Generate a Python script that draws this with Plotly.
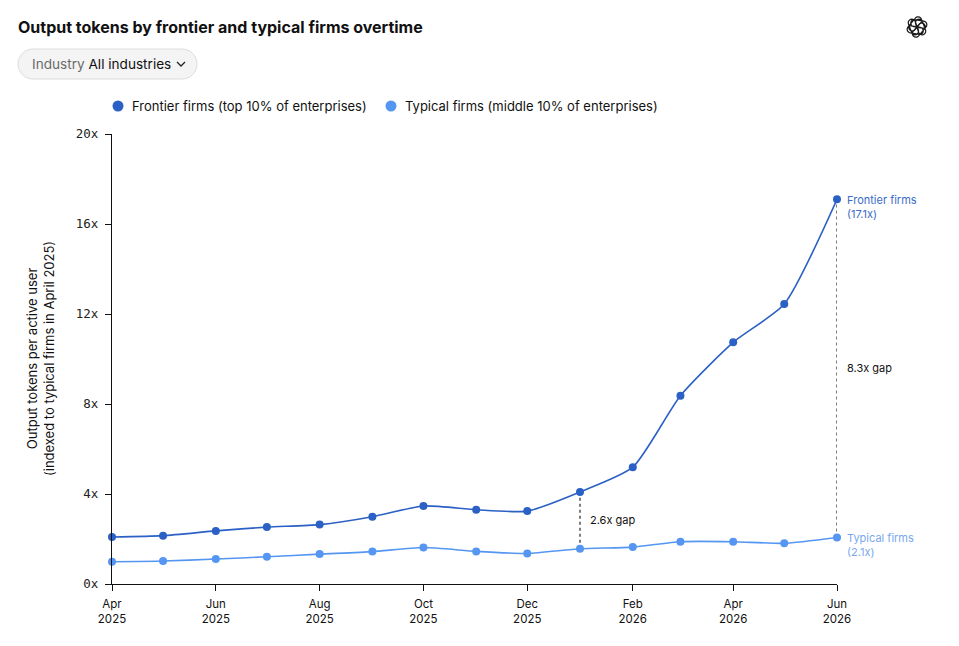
import math
import plotly.graph_objects as go

# ---------------- data ----------------
months = ["2025-04-01", "2025-05-01", "2025-06-01", "2025-07-01", "2025-08-01",
          "2025-09-01", "2025-10-01", "2025-11-01", "2025-12-01", "2026-01-01",
          "2026-02-01", "2026-03-01", "2026-04-01", "2026-05-01", "2026-06-01"]
frontier = [2.09, 2.15, 2.36, 2.53, 2.64, 2.99, 3.47, 3.30, 3.24, 4.09,
            5.19, 8.37, 10.74, 12.44, 17.1]
typical = [0.99, 1.02, 1.11, 1.21, 1.33, 1.44, 1.62, 1.45, 1.36, 1.57,
           1.64, 1.88, 1.88, 1.81, 2.07]
tick_months = ["2025-04-01", "2025-06-01", "2025-08-01", "2025-10-01",
               "2025-12-01", "2026-02-01", "2026-04-01", "2026-06-01"]
tick_labels = ["Apr<br>2025", "Jun<br>2025", "Aug<br>2025", "Oct<br>2025",
               "Dec<br>2025", "Feb<br>2026", "Apr<br>2026", "Jun<br>2026"]
y_ticks = [0, 4, 8, 12, 16, 20]
y_tick_labels = ["0x", "4x", "8x", "12x", "16x", "20x"]
gap_months = ["2026-01-01", "2026-06-01"]
frontier_name = "Frontier firms (top 10% of enterprises)"
typical_name = "Typical firms (middle 10% of enterprises)"

# ---------------- style ----------------
C_FRONT = "#2B60C4"
C_TYP = "#5596F2"
C_FRONT_LBL = "#3A6CC8"
C_TYP_LBL = "#79A8EE"
FONT = "Inter, Roboto, sans-serif"
MONO = "DejaVu Sans Mono, monospace"

fig = go.Figure()

# gap dashed lines
for gm in gap_months:
    i = months.index(gm)
    fig.add_trace(go.Scatter(x=[gm, gm], y=[typical[i], frontier[i]], mode="lines",
                             line=dict(color="#666666", width=1.7, dash="3px,3px"),
                             showlegend=False, hoverinfo="skip", cliponaxis=False))

fig.add_trace(go.Scatter(x=months, y=typical, mode="lines+markers", name=typical_name,
                         line=dict(color=C_TYP, width=1.6, shape="spline", smoothing=0.6),
                         marker=dict(color=C_TYP, size=8),
                         showlegend=False, cliponaxis=False))
fig.add_trace(go.Scatter(x=months, y=frontier, mode="lines+markers", name=frontier_name,
                         line=dict(color=C_FRONT, width=1.6, shape="spline", smoothing=0.6),
                         marker=dict(color=C_FRONT, size=8),
                         showlegend=False, cliponaxis=False))

annotations = []
shapes = []

def pix_shape(**kw):
    d = dict(xref="paper", yref="paper", xsizemode="pixel", ysizemode="pixel",
             xanchor=0, yanchor=1, layer="above")
    d.update(kw)
    return d

# manual legend (positions in pixels relative to plot top-left)
for name, col, dx in ((frontier_name, C_FRONT, 6), (typical_name, C_TYP, 279)):
    shapes.append(pix_shape(type="circle", x0=dx - 5.5, x1=dx + 5.5, y0=28 - 5.5, y1=28 + 5.5,
                            fillcolor=col, line=dict(width=0)))
    annotations.append(dict(x=0, y=1, xref="paper", yref="paper", xshift=dx + 12, yshift=28,
                            xanchor="left", yanchor="middle", showarrow=False, text=name,
                            font=dict(family=FONT, size=13, color="#111")))

# end labels
annotations.append(dict(x=months[-1], y=frontier[-1], xref="x", yref="y",
                        text=f"Frontier firms<br>({frontier[-1]:.1f}x)", showarrow=False,
                        xanchor="left", yanchor="top", align="left", xshift=8, yshift=8,
                        font=dict(family=FONT, size=11, color=C_FRONT_LBL)))
annotations.append(dict(x=months[-1], y=typical[-1], xref="x", yref="y",
                        text=f"Typical firms<br>({typical[-1]:.1f}x)", showarrow=False,
                        xanchor="left", yanchor="top", align="left", xshift=8, yshift=8,
                        font=dict(family=FONT, size=11, color=C_TYP_LBL)))
# gap labels
for gm in gap_months:
    i = months.index(gm)
    annotations.append(dict(x=gm, y=(frontier[i] + typical[i]) / 2, xref="x", yref="y",
                            text=f"{frontier[i] / typical[i]:.1f}x gap", showarrow=False,
                            xanchor="left", yanchor="middle", xshift=8,
                            font=dict(family=FONT, size=11, color="#111")))
# y-axis title
annotations.append(dict(x=0, y=0.5, xref="paper", yref="paper", xshift=-72,
                        textangle=-90, showarrow=False, xanchor="center", yanchor="middle",
                        text="Output tokens per active user<br>(indexed to typical firms in April 2025)",
                        font=dict(family=FONT, size=13, color="#111")))
# dropdown text
annotations.append(dict(x=0, y=1, xref="paper", yref="paper", xshift=-94 + 12, yshift=70,
                        xanchor="left", yanchor="middle", showarrow=False,
                        text="<span style='color:#6b6b6b'>Industry</span> All industries",
                        font=dict(family=FONT, size=13.6, color="#111")))

# pill-shaped dropdown
L, R, T, B = -94, 85, 85, 55
r = 15
pill = (f"M {L + r},{T} L {R - r},{T} C {R - r + 8.3},{T} {R},{T - 6.7} {R},{T - r} "
        f"C {R},{B + 6.7} {R - 6.7},{B} {R - r},{B} L {L + r},{B} "
        f"C {L + 6.7},{B} {L},{B + 6.7} {L},{B + r} C {L},{T - 6.7} {L + 6.7},{T} {L + r},{T} Z")
shapes.append(pix_shape(type="path", path=pill, fillcolor="#f4f4f4",
                        line=dict(color="#dcdcdc", width=1), layer="below"))
# chevron
shapes.append(pix_shape(type="path", path="M 65,72 L 69,68 L 73,72",
                        line=dict(color="#222", width=1.3)))

# logo (rosette of interlocking capsules) at top-right
lx, ly = (917 - 112), (134 - 27)
def capsule(cx, cy, ang, length=9.0, rad=3.6, n=10):
    pts = []
    ca, sa = math.cos(ang), math.sin(ang)
    for end, a0 in ((length / 2, -math.pi / 2), (-length / 2, math.pi / 2)):
        for k in range(n + 1):
            a = a0 + math.pi * k / n
            px = end + rad * math.cos(a)
            py = rad * math.sin(a)
            pts.append((cx + px * ca - py * sa, cy + px * sa + py * ca))
    return "M " + " L ".join(f"{x:.2f},{y:.2f}" for x, y in pts) + " Z"

logo_path = ""
for k in range(6):
    th = k * math.pi / 3
    cx = lx + 3.6 * math.cos(th)
    cy = ly + 3.6 * math.sin(th)
    logo_path += capsule(cx, cy, th + math.pi / 2 + 0.35) + " "
shapes.append(pix_shape(type="path", path=logo_path.strip(), fillcolor="rgba(0,0,0,0)",
                        line=dict(color="#1a1a1a", width=1.2)))

# page body adds an 8px offset, so margins are shifted accordingly
fig.update_layout(
    width=959, height=646,
    margin=dict(l=104, r=130, t=126, b=70),
    paper_bgcolor="white", plot_bgcolor="white",
    title=dict(text="<b>Output tokens by frontier and typical firms overtime</b>",
               x=10 / 959, xanchor="left", xref="container",
               y=1 - 19 / 646, yanchor="middle", yref="container",
               font=dict(family=FONT, size=16, color="#111")),
    showlegend=False,
    xaxis=dict(type="date", range=[months[0], months[-1]],
               tickmode="array", tickvals=tick_months, ticktext=tick_labels,
               showgrid=False, zeroline=False, showline=True, linecolor="#111", linewidth=1.2,
               ticks="outside", ticklen=6, tickcolor="#111", ticklabelstandoff=3,
               tickfont=dict(family=FONT, size=11.5, color="#111")),
    yaxis=dict(range=[0, 20], tickmode="array", tickvals=y_ticks, ticktext=y_tick_labels,
               showgrid=False, zeroline=False, showline=True, linecolor="#111", linewidth=1.2,
               ticks="outside", ticklen=6, tickcolor="#111", ticklabelstandoff=4,
               tickfont=dict(family=MONO, size=12.5, color="#222")),
    annotations=annotations,
    shapes=shapes,
)

fig.write_html("out.html")
